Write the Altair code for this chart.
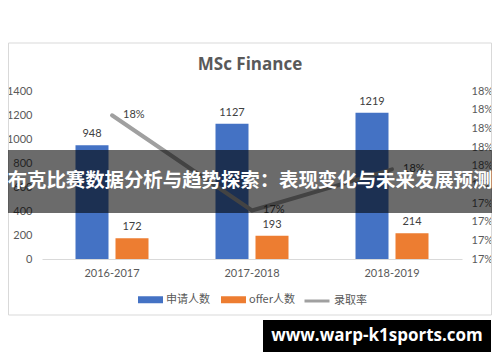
import altair as alt
import pandas as pd

years = ["2016-2017", "2017-2018", "2018-2019"]
applicants = [948, 1127, 1219]
offers = [172, 193, 214]
rates = [0.1814, 0.1712, 0.1756]
series = ["申请人数", "offer人数"]
rate_name = "录取率"
title_text = "MSc Finance"
banner_text = "布克比赛数据分析与趋势探索：表现变化与未来发展预测"
watermark_text = "www.warp-k1sports.com"
left_ticks = [0, 200, 400, 600, 800, 1000, 1200, 1400]
right_ticks = [0.166, 0.168, 0.170, 0.172, 0.174, 0.176, 0.178, 0.180, 0.182, 0.184]

CJK = "Noto Sans CJK SC"
NUM = "Lato"
TXT = "#595959"

bars_df = pd.DataFrame({
    "year": years * 2,
    "series": [series[0]] * 3 + [series[1]] * 3,
    "value": applicants + offers,
})
rate_df = pd.DataFrame({"year": years, "rate": rates, "name": [rate_name] * 3})
one = pd.DataFrame({"k": [0]})

x_enc = alt.X("year:N", sort=years,
              scale=alt.Scale(paddingInner=0, paddingOuter=0),
              axis=alt.Axis(title=None, labelAngle=0, ticks=False, domainColor="#d9d9d9",
                            labelColor=TXT, labelFont=NUM, labelFontSize=11, labelPadding=8))
xo_enc = alt.XOffset("series:N", sort=series,
                     scale=alt.Scale(paddingInner=0.175, paddingOuter=0.8375))
left_axis = alt.Axis(values=left_ticks, format="d", title=None, grid=False, ticks=False,
                     domain=False, labelOverlap=False, labelSeparation=0,
                     labelColor=TXT, labelFont=NUM, labelFontSize=11, labelPadding=10)
y_left = alt.Y("value:Q", scale=alt.Scale(domain=[0, 1400], nice=False), axis=left_axis)

base_bars = alt.Chart(bars_df)
bars = base_bars.mark_bar().encode(
    x=x_enc, xOffset=xo_enc, y=y_left,
    color=alt.Color("series:N", sort=series,
                    scale=alt.Scale(domain=series, range=["#4472C4", "#ED7D31"]),
                    legend=alt.Legend(title=None, orient="none", legendX=96, legendY=196,
                                      direction="horizontal",
                                      symbolType="M-1,-0.28L1,-0.28L1,0.28L-1,0.28Z",
                                      symbolSize=625, symbolStrokeWidth=0,
                                      labelFont=CJK, labelFontSize=11, labelColor=TXT,
                                      columnPadding=11, labelOffset=3)),
)
bar_labels = base_bars.mark_text(dy=-11, baseline="middle", font=NUM, fontSize=11, color="#404040").encode(
    x=alt.X("year:N", sort=years), xOffset=alt.XOffset("series:N", sort=series),
    y=alt.Y("value:Q", axis=left_axis),
    text="value:Q",
)

right_axis = alt.Axis(orient="right", values=right_ticks, format=".0%", title=None, grid=False,
                      ticks=False, domain=False, labelOverlap=False, labelSeparation=0, labelColor=TXT,
                      labelFont=NUM, labelFontSize=11, labelPadding=9)
y_right = alt.Y("rate:Q", scale=alt.Scale(domain=[0.166, 0.184], nice=False, zero=False), axis=right_axis)
base_line = alt.Chart(rate_df)
line = base_line.mark_line(strokeWidth=4, strokeCap="round").encode(
    x=alt.X("year:N", sort=years), y=y_right,
    stroke=alt.Stroke("name:N", scale=alt.Scale(domain=[rate_name], range=["#A0A0A0"]),
                      legend=alt.Legend(title=None, orient="none", legendX=261, legendY=196,
                                        symbolType="stroke", symbolSize=625, symbolStrokeWidth=3,
                                        labelFont=CJK, labelFontSize=11, labelColor=TXT,
                                        labelOffset=3)),
)
line_labels = base_line.mark_text(align="left", dx=11, baseline="middle", font=NUM, fontSize=11,
                                  color="#404040").encode(
    x=alt.X("year:N", sort=years), y=alt.Y("rate:Q", axis=right_axis),
    text=alt.Text("rate:Q", format=".0%"),
)

frame = alt.Chart(one).mark_rect(fillOpacity=0, stroke="#d9d9d9", strokeWidth=1).encode(
    x=alt.value(-33.5), x2=alt.value(449.5), y=alt.value(-48), y2=alt.value(224))
title = alt.Chart(one).mark_text(font="Open Sans", fontSize=17, fontWeight="bold", color=TXT,
                                 baseline="middle").encode(
    x=alt.value(208), y=alt.value(-26), text=alt.value(title_text))
band = alt.Chart(one).mark_rect(color="black", opacity=0.58).encode(
    x=alt.value(-42), x2=alt.value(458), y=alt.value(59), y2=alt.value(122))
banner = alt.Chart(one).mark_text(font=CJK, fontSize=19.4, fontWeight="bold", color="white",
                                  baseline="middle").encode(
    x=alt.value(208), y=alt.value(90), text=alt.value(banner_text))
wm_rect = alt.Chart(one).mark_rect(color="black").encode(
    x=alt.value(221), x2=alt.value(449), y=alt.value(229), y2=alt.value(261))
wm_text = alt.Chart(one).mark_text(font="Open Sans", fontSize=17, fontWeight="bold", color="white",
                                   baseline="middle").encode(
    x=alt.value(335), y=alt.value(245), text=alt.value(watermark_text))

chart = alt.layer(
    frame,
    alt.layer(bars, bar_labels),
    alt.layer(line, line_labels),
    band, banner, wm_rect, wm_text, title,
).resolve_scale(y="independent").properties(
    width=420, height=168,
    padding={"left": 34, "top": 83, "right": 30, "bottom": 95},
    autosize=alt.AutoSizeParams(type="none"),
).configure_view(strokeWidth=0).configure_axis(labelOverlap=False)

chart.save("out.html", embed_options={"renderer": "svg", "actions": False})
